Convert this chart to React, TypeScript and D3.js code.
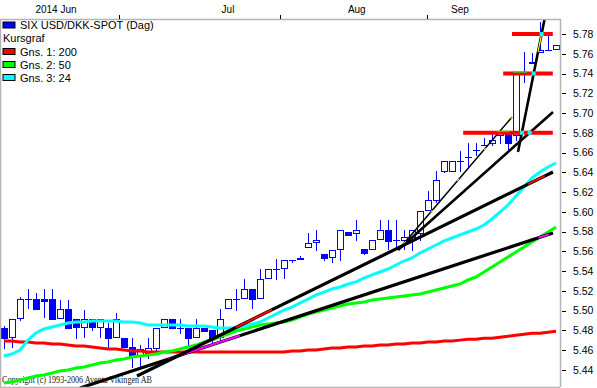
import React from 'react';
import * as d3 from 'd3';

// ---- Data ----
const opens = [5.4823, 5.4732, 5.4924, 5.5116, 5.5116, 5.5116, 5.5116, 5.4924, 5.5015, 5.4914,
  5.4833, 5.4914, 5.4833, 5.4823, 5.4732, 5.4722, 5.463, 5.4539, 5.4569, 5.462,
  5.4833, 5.4914, 5.4823, 5.4823, 5.4732, 5.4823, 5.4802, 5.4732, 5.5025, 5.5116,
  5.5127, 5.5218, 5.5127, 5.5329, 5.542, 5.543, 5.5511, 5.5522, 5.5643, 5.5694,
  5.5572, 5.5542, 5.5623, 5.5795, 5.5785, 5.5623, 5.5623, 5.5724, 5.5815, 5.5714,
  5.5714, 5.5744, 5.5785, 5.6018, 5.6119, 5.6413, 5.6413, 5.6514, 5.6554, 5.6625,
  5.6676, 5.6696, 5.6777, 5.6797, 5.6777, 5.7405, 5.7506, 5.7618, 5.7638, 5.7648];
const highs = [5.4843, 5.4914, 5.5137, 5.5218, 5.5177, 5.5218, 5.5218, 5.5106, 5.5106, 5.4914,
  5.5005, 5.4914, 5.4914, 5.4874, 5.4975, 5.4722, 5.4722, 5.465, 5.4722, 5.4823,
  5.4914, 5.4914, 5.4914, 5.4823, 5.4914, 5.4823, 5.4802, 5.5015, 5.5116, 5.5218,
  5.5319, 5.5218, 5.542, 5.542, 5.5522, 5.5511, 5.5511, 5.5552, 5.5785, 5.5815,
  5.5572, 5.5613, 5.5815, 5.5795, 5.5916, 5.5623, 5.5714, 5.5916, 5.5916, 5.5916,
  5.5815, 5.5815, 5.6008, 5.621, 5.6413, 5.6514, 5.6514, 5.6615, 5.6696, 5.6696,
  5.6747, 5.6808, 5.6818, 5.6818, 5.7405, 5.7618, 5.7608, 5.7922, 5.778, 5.7689];
const lows = [5.462, 5.463, 5.4904, 5.5025, 5.5015, 5.4934, 5.4914, 5.4924, 5.4823, 5.4722,
  5.4732, 5.4802, 5.4732, 5.462, 5.4732, 5.463, 5.4428, 5.4428, 5.4519, 5.46,
  5.4833, 5.4823, 5.4772, 5.465, 5.4732, 5.4792, 5.4681, 5.4701, 5.5025, 5.5005,
  5.5127, 5.5025, 5.5127, 5.5329, 5.5319, 5.5329, 5.5491, 5.5522, 5.5643, 5.5613,
  5.5511, 5.5491, 5.5511, 5.5765, 5.5714, 5.5572, 5.5623, 5.5724, 5.5623, 5.5623,
  5.5623, 5.5613, 5.5714, 5.6018, 5.6099, 5.6403, 5.6413, 5.6413, 5.6453, 5.6575,
  5.6676, 5.6676, 5.6696, 5.6605, 5.6727, 5.7314, 5.7506, 5.7618, 5.7638, 5.7648];
const closes = [5.4722, 5.4914, 5.5116, 5.5116, 5.5015, 5.5096, 5.4914, 5.5015, 5.4823, 5.4833,
  5.4914, 5.4833, 5.4914, 5.4722, 5.4914, 5.463, 5.4529, 5.461, 5.462, 5.4823,
  5.4914, 5.4823, 5.4823, 5.4722, 5.4823, 5.4792, 5.4722, 5.4914, 5.5116, 5.5116,
  5.5218, 5.5116, 5.5319, 5.542, 5.542, 5.5511, 5.5511, 5.5532, 5.5684, 5.5714,
  5.5532, 5.5613, 5.5815, 5.5765, 5.5815, 5.5582, 5.5714, 5.5815, 5.5704, 5.5714,
  5.5744, 5.5815, 5.6008, 5.6119, 5.6322, 5.6514, 5.6514, 5.6514, 5.6554, 5.6625,
  5.6676, 5.6727, 5.6818, 5.6696, 5.7405, 5.7405, 5.7516, 5.7638, 5.7638, 5.7689];

const ma200 = [5.469, 5.469, 5.468, 5.468, 5.467, 5.467, 5.466, 5.466, 5.465, 5.464,
  5.464, 5.463, 5.462, 5.461, 5.461, 5.460, 5.459, 5.459, 5.458, 5.458,
  5.458, 5.458, 5.458, 5.458, 5.458, 5.458, 5.458, 5.458, 5.458, 5.458,
  5.458, 5.458, 5.458, 5.458, 5.458, 5.458, 5.459, 5.459, 5.460, 5.460,
  5.461, 5.462, 5.462, 5.463, 5.463, 5.464, 5.464, 5.465, 5.465, 5.466,
  5.466, 5.467, 5.467, 5.468, 5.468, 5.469, 5.469, 5.470, 5.471, 5.471,
  5.472, 5.472, 5.473, 5.474, 5.475, 5.476, 5.477, 5.477, 5.478, 5.479];
const ma50 = [5.4266, 5.4276, 5.4296, 5.4316, 5.4337, 5.4347, 5.4367, 5.4387, 5.4397, 5.4418,
  5.4428, 5.4448, 5.4468, 5.4478, 5.4499, 5.4509, 5.4529, 5.4539, 5.4549, 5.4559,
  5.458, 5.459, 5.461, 5.463, 5.465, 5.4681, 5.4701, 5.4732, 5.4762, 5.4792,
  5.4813, 5.4833, 5.4853, 5.4863, 5.4873, 5.4883, 5.4904, 5.4934, 5.4964, 5.4985,
  5.5005, 5.5025, 5.5046, 5.5066, 5.5076, 5.5086, 5.5106, 5.5116, 5.5127, 5.5137,
  5.5147, 5.5157, 5.5167, 5.5187, 5.5207, 5.5228, 5.5248, 5.5268, 5.5309, 5.5339,
  5.539, 5.544, 5.5491, 5.5542, 5.5592, 5.5643, 5.5694, 5.5744, 5.5795, 5.5846];
const ma24 = [5.4539, 5.4559, 5.46, 5.4701, 5.4772, 5.4813, 5.4833, 5.4853, 5.4873, 5.4883,
  5.4883, 5.4894, 5.4894, 5.4894, 5.4894, 5.4883, 5.4883, 5.4873, 5.4853, 5.4853,
  5.4853, 5.4853, 5.4853, 5.4843, 5.4843, 5.4843, 5.4833, 5.4823, 5.4823, 5.4823,
  5.4843, 5.4863, 5.4883, 5.4924, 5.4964, 5.5005, 5.5035, 5.5076, 5.5116, 5.5157,
  5.5187, 5.5218, 5.5238, 5.5268, 5.5289, 5.5329, 5.536, 5.539, 5.542, 5.5461,
  5.5501, 5.5532, 5.5582, 5.5623, 5.5663, 5.5704, 5.5734, 5.5765, 5.5795, 5.5825,
  5.5866, 5.5927, 5.5997, 5.6068, 5.6159, 5.625, 5.6342, 5.6403, 5.6453, 5.6494];

// trend lines: [startIndex, startValue, endIndex, endValue]
const trendLower = [9.5, 5.4215, 68.625, 5.5785];
const trendUpper = [16.625, 5.4337, 68.625, 5.6403];
const fanThin = [49.5, 5.5633, 63.5, 5.6959];
const fanMid = [49.25, 5.5613, 68.625, 5.701];
const fanSteep = [64.25, 5.6605, 67.625, 5.7972];
// horizontal resistance levels: value and start index
const levelValues = [5.68, 5.74, 5.78];
const levelStarts = [57.4, 62.4, 63.5];
const levelEnd = 68.6;

const yTicks = [5.44, 5.46, 5.48, 5.50, 5.52, 5.54, 5.56, 5.58, 5.60, 5.62, 5.64, 5.66, 5.68, 5.70, 5.72, 5.74, 5.76, 5.78];
const monthLabels = ['2014 Jun', 'Jul', 'Aug', 'Sep'];
const monthLabelIdx = [6.5, 28, 44.1, 57];
const monthTickIdx = [14.375, 34.5, 52.875];

const legendItems = ['Gns. 1: 200', 'Gns. 2: 50', 'Gns. 3: 24'];
const legendColors = ['#ff0000', '#00ff00', '#00ffff'];

// ---- Layout ----
const W = 597, H = 388;
const PL = 0, PR = 560, PT = 19, PB = 387;
const xS = d3.scaleLinear().domain([0, 69]).range([4, 556]);
const yS = d3.scaleLinear().domain([5.44, 5.78]).range([369.75, 34]);
const BLUE = '#0000ff';

function valAt(t: number[], i: number) {
  return t[1] + (i - t[0]) * (t[3] - t[1]) / (t[2] - t[0]);
}
function idxAt(t: number[], v: number) {
  return t[0] + (v - t[1]) * (t[2] - t[0]) / (t[3] - t[1]);
}
function seg(t: number[], i0?: number, i1?: number) {
  const a = i0 ?? t[0], b = i1 ?? t[2];
  return d3.line<[number, number]>().x(d => xS(d[0])).y(d => yS(d[1]))([[a, valAt(t, a)], [b, valAt(t, b)]]) || '';
}

export default function App() {
  const maLine = d3.line<number>().x((_, i) => xS(i)).y(d => yS(d)).curve(d3.curveLinear);
  const font = "'Liberation Sans', Arial, sans-serif";

  const crosses: [number, number][] = [
    [idxAt(fanSteep, levelValues[2]), levelValues[2]],
    [idxAt(fanSteep, levelValues[1]), levelValues[1]],
    [idxAt(fanSteep, levelValues[0]), levelValues[0]],
    [idxAt(fanMid, levelValues[0]), levelValues[0]],
  ];

  return (
    <svg width={W} height={H} style={{ position: 'absolute', left: 0, top: 0 }} fontFamily={font}>
      <defs>
        <clipPath id="plot"><rect x={PL} y={PT} width={PR - PL} height={PB - PT} /></clipPath>
      </defs>
      <rect x={0} y={0} width={W} height={H} fill="#fff" />

      {/* copyright (under the lines) */}
      <text x={2} y={383} fontFamily="'Liberation Serif', 'Times New Roman', serif" fontSize={10}
        textLength={150} lengthAdjust="spacingAndGlyphs" fill="#222">Copyright (c) 1993-2006 Aventa Vikingen AB</text>

      <g clipPath="url(#plot)">
        {/* candles */}
        <g shapeRendering="crispEdges">
          {opens.map((o, i) => {
            const c = closes[i];
            const cx = Math.round(xS(i));
            const yh = Math.round(yS(highs[i]));
            const yl = Math.round(yS(lows[i]));
            const yt = Math.round(yS(Math.max(o, c)));
            const yb = Math.round(yS(Math.min(o, c)));
            const up = c > o;
            const down = c < o;
            return (
              <g key={i}>
                <line x1={cx + 0.5} x2={cx + 0.5} y1={yh} y2={yl + 1} stroke={BLUE} strokeWidth={1} />
                {yb - yt < 1 ? (
                  <line x1={cx - 3} x2={cx + 4} y1={yt + 0.5} y2={yt + 0.5} stroke={BLUE} strokeWidth={1} />
                ) : (
                  <rect x={cx - 2.5} y={yt + 0.5} width={6} height={yb - yt}
                    fill={down ? BLUE : '#fff'} stroke={BLUE} strokeWidth={1} />
                )}
                {up && null}
              </g>
            );
          })}
        </g>

        {/* moving averages */}
        <path d={maLine(ma200) || ''} fill="none" stroke="#ff0000" strokeWidth={3} />
        <path d={maLine(ma50) || ''} fill="none" stroke="#00ff00" strokeWidth={3} />
        <path d={maLine(ma24) || ''} fill="none" stroke="#00ffff" strokeWidth={3} />

        {/* trend lines */}
        <path d={seg(trendLower)} stroke="#000" strokeWidth={3.2} fill="none" />
        <path d={seg(trendLower, 20.5, 29.5)} stroke="#ff00ff" strokeWidth={2} fill="none" />
        <path d={seg(trendLower, 66.8, 68.1)} stroke="#ff00ff" strokeWidth={2} fill="none" />
        <path d={seg(trendUpper)} stroke="#000" strokeWidth={3.2} fill="none" />
        <path d={seg(trendUpper, 29, 33.5)} stroke="#ff0000" strokeWidth={2} fill="none" />
        <path d={seg(trendUpper, 65.5, 67.6)} stroke="#ff0000" strokeWidth={2} fill="none" />
        <path d={seg(fanMid)} stroke="#000" strokeWidth={2.6} fill="none" />
        <path d={seg(fanThin)} stroke="#000" strokeWidth={1.6} fill="none" />
        <path d={seg(fanThin)} stroke="#ffff00" strokeWidth={1} strokeDasharray="3 38" strokeDashoffset={-6} fill="none" />
        <path d={seg(fanSteep, fanSteep[0], 67.9)} stroke="#000" strokeWidth={2.6} fill="none" />
        <path d={seg(fanSteep, 66.75, 67.15)} stroke="#ffff00" strokeWidth={1.2} fill="none" />

        {/* horizontal levels */}
        {levelValues.map((v, k) => (
          <line key={k} x1={xS(levelStarts[k])} x2={xS(levelEnd)} y1={yS(v)} y2={yS(v)}
            stroke="#ff0000" strokeWidth={4} />
        ))}
        <line x1={xS(61.6)} x2={xS(63.2)} y1={yS(levelValues[0]) - 1.5} y2={yS(levelValues[0]) - 1.5} stroke="#00ff00" strokeWidth={1.2} />
        <line x1={xS(63.6)} x2={xS(65.4)} y1={yS(levelValues[1]) - 1.5} y2={yS(levelValues[1]) - 1.5} stroke="#00ff00" strokeWidth={1.2} />
        {crosses.map(([i, v], k) => (
          <rect key={k} x={xS(i) - 2} y={yS(v) - 2} width={4} height={4} fill="#00ffff" />
        ))}
      </g>

      {/* frame */}
      <g stroke="#b4b4b4" strokeWidth={1.5} fill="none">
        <line x1={PL} x2={PR} y1={PT + 0.5} y2={PT + 0.5} />
        <line x1={PR + 0.5} x2={PR + 0.5} y1={PT} y2={PB} />
        <line x1={PL + 0.5} x2={PL + 0.5} y1={PT} y2={PB} />
        <line x1={PL} x2={PR} y1={PB + 0.5} y2={PB + 0.5} />
      </g>

      {/* right axis */}
      <g shapeRendering="crispEdges">
        {yTicks.map(t => (
          <line key={t} x1={562} x2={566} y1={Math.round(yS(t)) + 0.5} y2={Math.round(yS(t)) + 0.5} stroke="#000" />
        ))}
      </g>
      {yTicks.map(t => (
        <text key={t} x={573} y={yS(t) + 3.8} fontSize={10.5} fill="#000">{d3.format('.2f')(t)}</text>
      ))}

      {/* top axis */}
      {monthTickIdx.map((i, k) => (
        <line key={k} x1={Math.round(xS(i)) + 0.5} x2={Math.round(xS(i)) + 0.5} y1={15} y2={19} stroke="#000" shapeRendering="crispEdges" />
      ))}
      {monthLabels.map((m, k) => (
        <text key={m} x={xS(monthLabelIdx[k])} y={12.5} fontSize={10} textAnchor="middle" fill="#000">{m}</text>
      ))}

      {/* legend */}
      <g fontSize={11} fill="#000">
        <rect x={3} y={22} width={12} height={6} fill={BLUE} stroke="#000" strokeWidth={1} />
        <text x={20} y={29}>SIX USD/DKK-SPOT (Dag)</text>
        <text x={3} y={42}>Kursgraf</text>
        {legendItems.map((t, k) => (
          <g key={t}>
            <rect x={3} y={48.5 + k * 13} width={12} height={6} fill={legendColors[k]} stroke="#000" strokeWidth={1} />
            <text x={20} y={55.5 + k * 13}>{t}</text>
          </g>
        ))}
      </g>
    </svg>
  );
}
